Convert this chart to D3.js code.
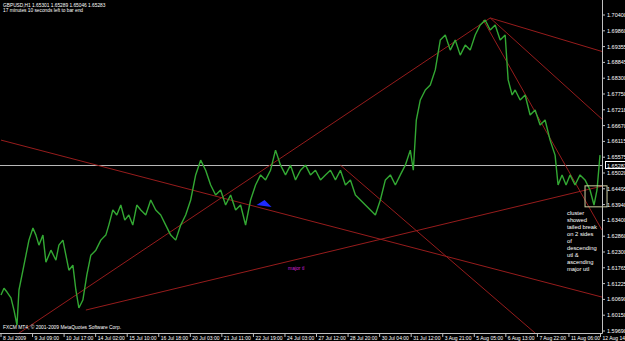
<!DOCTYPE html>
<html>
<head>
<meta charset="utf-8">
<script src="https://cdn.jsdelivr.net/npm/d3@7"></script>
<style>
  html, body { margin: 0; padding: 0; background: #000; }
  svg { display: block; }
  text { font-family: "Liberation Sans", Arial, sans-serif; }
</style>
</head>
<body>
<svg id="chart"></svg>
<script>
// Chart size
const width = 625;
const height = 341;
const plotRight = 602;
const plotBottom = 333;

// GBPUSD H1 closes (bar index, price)
const bars = [0, 3, 6, 10, 13, 16, 18, 22, 25, 28, 32, 35, 38, 42, 45, 50, 55, 58, 62, 65, 68, 72, 75, 78,
  82, 86, 90, 95, 100, 105, 108, 112, 116, 120, 124, 128, 132, 136, 140, 145, 150, 155, 160, 165, 170,
  175, 180, 185, 190, 195, 200, 205, 210, 215, 220, 225, 230, 235, 240, 245, 250, 255, 260, 265, 270,
  275, 280, 285, 290, 295, 300, 305, 310, 315, 320, 325, 330, 335, 340, 345, 350, 355, 360, 365, 370,
  375, 380, 385, 390, 395, 400, 405, 410, 413, 416, 420, 425, 430, 435, 440, 445, 450, 455, 460, 465,
  470, 475, 480, 485, 490, 495, 500, 505, 508, 512, 515, 520, 525, 530, 535, 540, 545, 550, 555, 558,
  562, 566, 570, 575, 580, 585, 590, 594, 597, 600];
const closes = [1.6091, 1.6114, 1.6101, 1.6081, 1.6040, 1.5989, 1.6108, 1.6175, 1.6226, 1.6277, 1.6318,
  1.6294, 1.6260, 1.6294, 1.6202, 1.6243, 1.6209, 1.6260, 1.6277, 1.6226, 1.6175, 1.6192, 1.6108, 1.6047,
  1.6074, 1.6159, 1.6226, 1.6243, 1.6277, 1.6294, 1.6328, 1.6379, 1.6362, 1.6396, 1.6345, 1.6362, 1.6328,
  1.6396, 1.6379, 1.6362, 1.6413, 1.6379, 1.6362, 1.6328, 1.6294, 1.6277, 1.6328, 1.6362, 1.6413, 1.6498,
  1.6548, 1.6514, 1.6464, 1.6430, 1.6447, 1.6396, 1.6430, 1.6379, 1.6396, 1.6328, 1.6413, 1.6464, 1.6498,
  1.6481, 1.6514, 1.6582, 1.6531, 1.6498, 1.6531, 1.6481, 1.6514, 1.6531, 1.6498, 1.6514, 1.6481, 1.6498,
  1.6514, 1.6481, 1.6514, 1.6464, 1.6481, 1.6430, 1.6413, 1.6396, 1.6379, 1.6362, 1.6413, 1.6481, 1.6498,
  1.6464, 1.6498, 1.6531, 1.6582, 1.6514, 1.6684, 1.6752, 1.6786, 1.6803, 1.6854, 1.6955, 1.6972, 1.6921,
  1.6955, 1.6904, 1.6938, 1.6921, 1.6972, 1.7006, 1.7023, 1.6989, 1.7006, 1.6955, 1.6972, 1.6820, 1.6769,
  1.6786, 1.6752, 1.6769, 1.6701, 1.6718, 1.6667, 1.6684, 1.6616, 1.6565, 1.6464, 1.6498, 1.6464, 1.6498,
  1.6464, 1.6498, 1.6481, 1.6447, 1.6396, 1.6447, 1.6565];

// Price axis labels
const priceTicks = ["1.70400", "1.69860", "1.69355", "1.68845", "1.68300", "1.67750", "1.67218",
  "1.66670", "1.66115", "1.65575", "1.65020", "1.64495", "1.63940", "1.63400", "1.62860",
  "1.62300", "1.61765", "1.61225", "1.60690", "1.60150", "1.59690"];
const bidPrice = 1.65283;

// Time axis labels
const timeTicks = ["8 Jul 2009", "9 Jul 09:00", "10 Jul 17:00", "14 Jul 02:00", "15 Jul 10:00",
  "16 Jul 18:00", "20 Jul 03:00", "21 Jul 11:00", "22 Jul 19:00", "24 Jul 03:00", "27 Jul 12:00",
  "28 Jul 20:00", "30 Jul 04:00", "31 Jul 12:00", "3 Aug 21:00", "5 Aug 05:00", "6 Aug 13:00",
  "7 Aug 22:00", "11 Aug 06:00", "12 Aug 14:00"];

// Hand-drawn trend lines: [bar1, price1, bar2, price2]
const trendLines = [
  [0, 1.6616, 602, 1.6084],
  [85, 1.6040, 602, 1.6460],
  [0, 1.5921, 490, 1.7030],
  [340, 1.6531, 535, 1.5962],
  [490, 1.7030, 625, 1.6893],
  [490, 1.7030, 602, 1.6687],
  [483, 1.7023, 602, 1.6311]
];

const noteLines = ["cluster", "showed", "tailed break", "on 2 sides", "of", "descending",
  "utl &", "ascending", "major utl"];

// Scales
const x = d3.scaleLinear().domain([0, 601]).range([1, plotRight - 1]);
const y = d3.scaleLinear().domain([1.5969, 1.7040]).range([331, 15]);
const tx = d3.scalePoint().domain(timeTicks).range([1, 600.5]);

const svg = d3.select("#chart").attr("width", width).attr("height", height);
svg.append("rect").attr("width", width).attr("height", height).attr("fill", "#000");

svg.append("clipPath").attr("id", "plot")
  .append("rect").attr("x", 0).attr("y", 0).attr("width", plotRight).attr("height", plotBottom);

const plot = svg.append("g").attr("clip-path", "url(#plot)");

// Bid line
plot.append("line")
  .attr("x1", 0).attr("x2", plotRight)
  .attr("y1", Math.round(y(bidPrice)) - 0.5).attr("y2", Math.round(y(bidPrice)) - 0.5)
  .attr("stroke", "#b8b8b8").attr("stroke-width", 1);

// Trend lines
plot.selectAll("line.tl")
  .data(trendLines)
  .enter()
  .append("line")
  .attr("class", "tl")
  .attr("x1", (d) => x(d[0])).attr("y1", (d) => y(d[1]))
  .attr("x2", (d) => x(d[2])).attr("y2", (d) => y(d[3]))
  .attr("stroke", "#961c1c").attr("stroke-width", 1);

// Price line
const line = d3.line()
  .x((d, i) => x(bars[i]))
  .y((d) => y(d));
plot.append("path")
  .datum(closes)
  .attr("d", line)
  .attr("fill", "none")
  .attr("stroke", "#33a833")
  .attr("stroke-width", 1.4)
  .attr("stroke-linejoin", "bevel");

// Blue arrow
svg.append("path")
  .attr("d", d3.line()([[x(256), y(1.6396)], [x(271), y(1.6389)], [x(264), y(1.6413)]]) + "Z")
  .attr("fill", "#1f2bff");

// Cluster box
svg.append("rect")
  .attr("x", x(585)).attr("y", y(1.6461))
  .attr("width", 22).attr("height", 21)
  .attr("fill", "none").attr("stroke", "#cfcfa0");

// Frame
svg.append("path")
  .attr("d", `M${plotRight + 0.5},0V${plotBottom + 0.5}H0`)
  .attr("fill", "none").attr("stroke", "#c0c0c0");

// Price labels
const step = 316 / (priceTicks.length - 1);
const pl = svg.append("g");
pl.selectAll("text")
  .data(priceTicks)
  .enter()
  .append("text")
  .attr("x", plotRight + 5)
  .attr("y", (d, i) => 15 + i * step + 2)
  .attr("fill", "#fff")
  .attr("font-size", 5.5)
  .text((d) => d);
pl.selectAll("line")
  .data(priceTicks)
  .enter()
  .append("line")
  .attr("x1", plotRight).attr("x2", plotRight + 3)
  .attr("y1", (d, i) => 15 + i * step).attr("y2", (d, i) => 15 + i * step)
  .attr("stroke", "#c0c0c0");

// Bid label
svg.append("rect")
  .attr("x", plotRight + 3.5).attr("y", Math.round(y(bidPrice)) - 4.5)
  .attr("width", 21).attr("height", 7)
  .attr("fill", "#000").attr("stroke", "#fff");
svg.append("text")
  .attr("x", plotRight + 5).attr("y", Math.round(y(bidPrice)) + 1.5)
  .attr("fill", "#fff").attr("font-size", 5.5)
  .text(bidPrice.toFixed(5));

// Time labels
const tl = svg.append("g");
tl.selectAll("text")
  .data(timeTicks)
  .enter()
  .append("text")
  .attr("x", (d) => tx(d) + 2)
  .attr("y", plotBottom + 7)
  .attr("fill", "#fff")
  .attr("font-size", 5)
  .text((d) => d);
tl.selectAll("line")
  .data(timeTicks)
  .enter()
  .append("line")
  .attr("x1", (d) => tx(d)).attr("x2", (d) => tx(d))
  .attr("y1", plotBottom).attr("y2", plotBottom + 4)
  .attr("stroke", "#c0c0c0");

// Header
svg.append("text").attr("x", 3).attr("y", 6.5).attr("fill", "#fff").attr("font-size", 4.8)
  .text("GBPUSD,H1  1.65301 1.65289 1.65046 1.65283");
svg.append("text").attr("x", 3).attr("y", 12).attr("fill", "#fff").attr("font-size", 4.8)
  .text("17 minutes 10 seconds left to bar end");
svg.append("text").attr("x", 3).attr("y", 329).attr("fill", "#fff").attr("font-size", 4.9)
  .text("FXCM MT4, © 2001-2009 MetaQuotes Software Corp.");

// Annotations
svg.append("text").attr("x", 288).attr("y", 270).attr("fill", "#d020d0").attr("font-size", 5)
  .text("major tl");
svg.append("g").selectAll("text")
  .data(noteLines)
  .enter()
  .append("text")
  .attr("x", 567)
  .attr("y", (d, i) => 215 + i * 7)
  .attr("fill", "#fff")
  .attr("font-size", 5.8)
  .text((d) => d);
</script>
</body>
</html>
